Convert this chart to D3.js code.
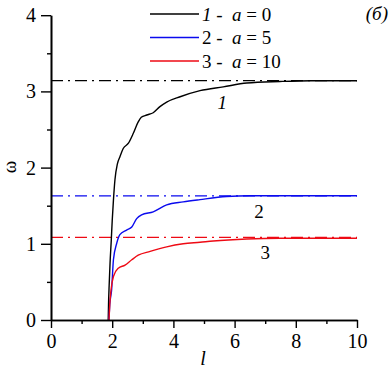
<!DOCTYPE html>
<html><head><meta charset="utf-8">
<script src="https://cdn.jsdelivr.net/npm/d3@7"></script>
</head><body style="margin:0"><svg id="c" width="389" height="377"></svg>
<script>
const xTicks = [0,2,4,6,8,10];
const yTicks = [0,1,2,3,4];
const seriesNames = ["1", "2", "3"];
const aValues = ["0", "5", "10"];
const colors = ["#000000", "#0a0aee", "#ee0a14"];
const asymptotes = [3.1416, 1.63, 1.085];
const l1 = [1.87,1.88,1.90,1.93,1.97,2.00,2.04,2.09,2.17,2.25,2.36,2.53,2.69,2.85,2.95,3.13,3.34,3.56,3.78,4.22,4.87,5.63,6.4,7.48,8.5,10];
const w1 = [0,0.2,0.45,0.75,1.05,1.3,1.57,1.84,2.05,2.14,2.25,2.32,2.45,2.60,2.66,2.69,2.72,2.80,2.86,2.93,3.01,3.06,3.11,3.13,3.14,3.14];
const l2 = [1.895,1.92,1.98,2.04,2.15,2.25,2.47,2.64,2.80,2.96,3.34,3.78,4.32,4.87,5.74,6.5,10];
const w2 = [0,0.2,0.39,0.79,1.01,1.12,1.18,1.22,1.33,1.38,1.42,1.51,1.55,1.58,1.62,1.63,1.63];
const l3 = [1.895,1.92,1.96,2.04,2.2,2.42,2.64,2.85,3.24,3.78,4.32,4.87,5.3,6.4,7.48,10];
const w3 = [0,0.2,0.39,0.57,0.68,0.72,0.79,0.85,0.90,0.96,1.0,1.02,1.037,1.063,1.072,1.072];
const curveLabelPos = [[5.6,2.85],[6.8,1.42],[7.0,0.89]];

const svg = d3.select("#c");
const x = d3.scaleLinear().domain([0,10]).range([51,357]);
const y = d3.scaleLinear().domain([0,4]).range([320,15.2]);
const series = [[l1,w1],[l2,w2],[l3,w3]];

function txt(sel, size, italic) {
  return sel.attr("font-family","Liberation Serif").style("font-family","'Liberation Serif', serif")
    .attr("font-size",size).style("font-size",size+"px").attr("font-style", italic?"italic":"normal");
}

asymptotes.forEach((v,i)=>{
  svg.append("line").attr("x1",x(0)).attr("x2",x(10)).attr("y1",y(v)).attr("y2",y(v))
    .attr("stroke",colors[i]).attr("stroke-width",1.3).attr("stroke-dasharray","12,5,2,5");
});

const line = d3.line().x(d=>x(d[0])).y(d=>y(d[1])).curve(d3.curveMonotoneX);
series.forEach((s,i)=>{
  const pts = s[0].map((v,j)=>[v,s[1][j]]);
  svg.append("path").datum(pts).attr("d",line).attr("fill","none")
    .attr("stroke",colors[i]).attr("stroke-width",1.4);
});

const fmt = d3.format("d");
const gx = svg.append("g").attr("transform","translate(0,320)");
gx.call(d3.axisBottom(x).tickValues(d3.range(1,10,2)).tickSize(4).tickSizeOuter(0).tickFormat(""));
gx.call(g=>g.append("g").call(d3.axisBottom(x).tickValues(xTicks).tickSize(8).tickSizeOuter(0).tickFormat(fmt)));
const gy = svg.append("g").attr("transform","translate(51,0)");
gy.call(d3.axisLeft(y).tickValues(d3.range(0.5,4,1)).tickSize(4).tickSizeOuter(0).tickFormat(""));
gy.call(g=>g.append("g").call(d3.axisLeft(y).tickValues(yTicks).tickSize(10).tickSizeOuter(0).tickFormat(fmt)));
svg.selectAll("g").attr("font-family","Liberation Serif");
svg.selectAll(".domain").attr("stroke","#000").attr("stroke-width",1.6);
svg.selectAll(".tick line").attr("stroke","#000").attr("stroke-width",1.4);
txt(svg.selectAll(".tick text"), 20, false).attr("fill","#000");
gx.selectAll(".tick text").attr("dy","0.35em").attr("y",21);
gy.selectAll(".tick text").attr("x",-15);

txt(svg.append("text"),19,false).attr("transform","translate(16,167) rotate(-90)").attr("text-anchor","middle")
  .attr("dy","0em").text("ω");
txt(svg.append("text"),20,true).attr("x",203).attr("y",365).attr("text-anchor","middle").text("l");

seriesNames.forEach((n,i)=>{
  const yy = 14 + i*23.5;
  svg.append("line").attr("x1",150).attr("x2",199).attr("y1",yy).attr("y2",yy)
    .attr("stroke",colors[i]).attr("stroke-width",1.4);
  const t = txt(svg.append("text"),19,false).attr("x",202).attr("y",yy).attr("dy","0.35em").style("white-space","pre");
  t.append("tspan").attr("font-style", i===0?"italic":"normal").text(n);
  t.append("tspan").text(" -  ");
  t.append("tspan").attr("font-style","italic").text("a");
  t.append("tspan").text(" = " + aValues[i]);
});

curveLabelPos.forEach((p,i)=>{
  txt(svg.append("text"),19,i===0).attr("x",x(p[0])).attr("y",y(p[1])).attr("dy","0.35em").attr("text-anchor","middle")
    .text(seriesNames[i]);
});

txt(svg.append("text"),19,true).attr("x",388).attr("y",13).attr("dy","0.35em").attr("text-anchor","end").text("(б)");
</script></body></html>
